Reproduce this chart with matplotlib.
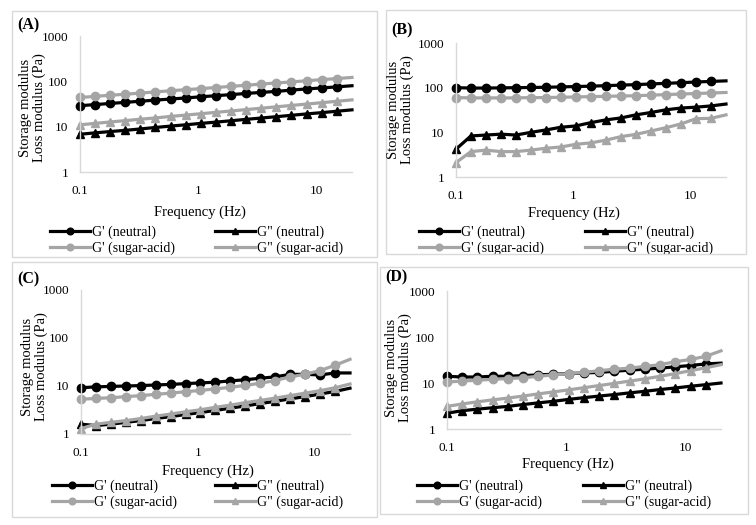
import numpy as np
import matplotlib
matplotlib.use('Agg')
import matplotlib.pyplot as plt
from matplotlib.patches import Rectangle

plt.rcParams['font.family'] = ['Liberation Serif', 'DejaVu Serif']

# frequency sweep (Hz), last point has no marker
freq = [0.1, 0.134, 0.18, 0.242, 0.324, 0.435, 0.584, 0.784, 1.05, 1.41,
        1.9, 2.54, 3.41, 4.58, 6.15, 8.25, 11.1, 14.9, 20.0]

# (A)
a_g1_neu = [29, 30.7, 32.5, 34.4, 36.4, 38.5, 40.7, 43, 45.6, 48.2,
            51, 54, 57, 60, 64, 68, 71.5, 75.5, 80]
a_g2_neu = [6.8, 7.3, 7.8, 8.3, 8.9, 9.6, 10.3, 11, 11.8, 12.6,
            13.5, 14.5, 15.5, 16.6, 17.8, 19.1, 20.4, 21.9, 23.5]
a_g1_sa = [44, 46.6, 49.3, 52, 55, 58.5, 62, 65.5, 69, 73,
           77.5, 82, 87, 92, 97, 103, 109, 115, 122]
a_g2_sa = [11, 11.8, 12.7, 13.6, 14.6, 15.6, 16.8, 18, 19.3, 20.7,
           22.2, 23.8, 25.5, 27.4, 29.4, 31.5, 33.8, 36.3, 39]

# (B)
b_g1_neu = [100, 98, 98, 99, 100, 101, 102, 104, 106, 108,
            111, 114, 117, 121, 125, 129, 134, 138, 142]
b_g2_neu = [4.2, 8.3, 8.7, 9.1, 8.7, 10, 11.3, 13, 13.9, 16.5,
            19, 21, 24.6, 27.8, 31.9, 35, 36.6, 39, 43]
b_g1_sa = [60, 59, 59, 59, 59, 60, 60, 61, 62, 63,
           64, 65, 66, 68, 70, 72, 74, 76, 78]
b_g2_sa = [2.1, 3.7, 4.0, 3.7, 3.7, 4.0, 4.4, 4.7, 5.4, 5.8,
           6.7, 8.0, 9.0, 10.7, 12.7, 15.4, 20.2, 20.6, 24.6]

# (C)
c_g1_neu = [9.2, 9.6, 9.8, 10, 10.2, 10.5, 10.8, 11.2, 11.6, 12,
            12.8, 13.5, 14.5, 15.5, 17.5, 17.5, 17, 18.7, 18.7]
c_g2_neu = [1.6, 1.5, 1.6, 1.75, 1.9, 2.1, 2.3, 2.55, 2.8, 3.1,
            3.45, 3.85, 4.3, 4.8, 5.4, 6.0, 6.8, 7.7, 9.0]
c_g1_sa = [5.3, 5.5, 5.7, 6.0, 6.3, 6.7, 7.1, 7.6, 8.1, 8.7,
           9.4, 10.3, 11.4, 13, 15.5, 17.5, 21, 27, 36]
c_g2_sa = [1.3, 1.6, 1.75, 1.9, 2.1, 2.35, 2.6, 2.9, 3.2, 3.6,
           4.0, 4.5, 5.0, 5.6, 6.3, 7.1, 8.0, 9.2, 11]

# (D)
d_g1_neu = [14, 13.5, 13.5, 14, 14, 14.5, 15, 15.5, 16, 16.5,
            17, 18, 19, 20, 21, 22.5, 24, 26, 27]
d_g2_neu = [2.2, 2.5, 2.7, 2.9, 3.1, 3.4, 3.7, 4.0, 4.4, 4.8,
            5.2, 5.6, 6.1, 6.6, 7.2, 7.8, 8.5, 9.2, 10]
d_g1_sa = [10.5, 11, 11.5, 12, 12.5, 13, 14, 15, 16, 17,
           18.5, 20, 21, 23, 25, 29, 32.5, 38, 50]
d_g2_sa = [3.1, 3.5, 3.9, 4.3, 4.7, 5.2, 5.8, 6.4, 7.1, 7.9,
           8.8, 9.8, 11, 12.3, 14, 16, 18.5, 21.5, 25]

panels = [
    ('(A)', a_g1_neu, a_g2_neu, a_g1_sa, a_g2_sa),
    ('(B)', b_g1_neu, b_g2_neu, b_g1_sa, b_g2_sa),
    ('(C)', c_g1_neu, c_g2_neu, c_g1_sa, c_g2_sa),
    ('(D)', d_g1_neu, d_g2_neu, d_g1_sa, d_g2_sa),
]

W, H = 756, 525
boxes = [(12, 11, 377, 257), (386, 10, 746, 254), (12, 262, 377, 517), (380, 267, 748, 514)]
axes_px = [(80, 36, 352, 172), (456, 43, 726, 177), (81, 290, 350, 434), (447, 291, 721, 429)]
ylab_px = [(33, 108), (400, 110), (35, 367), (398, 368)]
xlab_px = [(200, 212), (574, 213), (208, 471), (568, 464)]
leg_px = [(50, 215, 240), (419, 585, 240), (52, 215, 494), (417, 583, 494)]
tag_px = [(17, 25), (391, 30), (17, 279), (385, 277)]

BLACK = '#000000'
GRAY = '#a5a5a5'
LIGHT = '#d9d9d9'

fig = plt.figure(figsize=(W / 100, H / 100), dpi=100)

def fx(x):
    return x / W

def fy(y):
    return 1 - y / H

for i, (lab, g1n, g2n, g1s, g2s) in enumerate(panels):
    bx0, by0, bx1, by1 = boxes[i]
    fig.add_artist(Rectangle((fx(bx0), fy(by1)), (bx1 - bx0) / W, (by1 - by0) / H,
                             transform=fig.transFigure, fill=False, edgecolor=LIGHT, lw=1))
    l, t, r, b = axes_px[i]
    ax = fig.add_axes([fx(l), fy(b), (r - l) / W, (b - t) / H])
    kw = dict(lw=2.3, markersize=6, markevery=slice(0, 18), clip_on=False)
    h1, = ax.plot(freq, g1n, color=BLACK, marker='o', label="G' (neutral)", **kw)
    h2, = ax.plot(freq, g2n, color=BLACK, marker='^', label='G" (neutral)', **kw)
    h3, = ax.plot(freq, g1s, color=GRAY, marker='o', label="G' (sugar-acid)", **kw)
    h4, = ax.plot(freq, g2s, color=GRAY, marker='^', label='G" (sugar-acid)', **kw)
    ax.set_xscale('log')
    ax.set_yscale('log')
    ax.set_xlim(0.1, 20)
    ax.set_ylim(1, 1000)
    ax.set_xticks([0.1, 1, 10])
    ax.set_xticklabels(['0.1', '1', '10'])
    ax.set_yticks([1, 10, 100, 1000])
    ax.set_yticklabels(['1', '10', '100', '1000'])
    ax.minorticks_off()
    ax.tick_params(axis='x', length=0, labelsize=9.5, pad=9.5)
    ax.tick_params(axis='y', length=0, labelsize=9.5, pad=8.5)
    for s in ['top', 'right']:
        ax.spines[s].set_visible(False)
    for s in ['left', 'bottom']:
        ax.spines[s].set_color(LIGHT)
        ax.spines[s].set_linewidth(1)

    fig.text(fx(ylab_px[i][0]), fy(ylab_px[i][1]), 'Storage modulus\nLoss modulus (Pa)',
             rotation=90, ha='center', va='center', fontsize=10.5, linespacing=1.05)
    fig.text(fx(xlab_px[i][0]), fy(xlab_px[i][1]), 'Frequency (Hz)',
             ha='center', va='center', fontsize=10.5)
    fig.text(fx(tag_px[i][0]), fy(tag_px[i][1]), lab, fontsize=11.5,
             fontweight='bold', va='center', ha='left')

    c1, c2, ly = leg_px[i]
    lkw = dict(loc='center left', frameon=False, fontsize=10, handlelength=2.9,
               handletextpad=0.15, labelspacing=0.2, borderpad=0, borderaxespad=0,
               markerscale=0.8, bbox_transform=fig.transFigure)
    leg1 = ax.legend([h1, h3], ["G' (neutral)", "G' (sugar-acid)"],
                     bbox_to_anchor=(fx(c1), fy(ly)), **lkw)
    ax.add_artist(leg1)
    ax.legend([h2, h4], ['G" (neutral)', 'G" (sugar-acid)'],
              bbox_to_anchor=(fx(c2), fy(ly)), **lkw)

plt.savefig('out.png', dpi=100)
